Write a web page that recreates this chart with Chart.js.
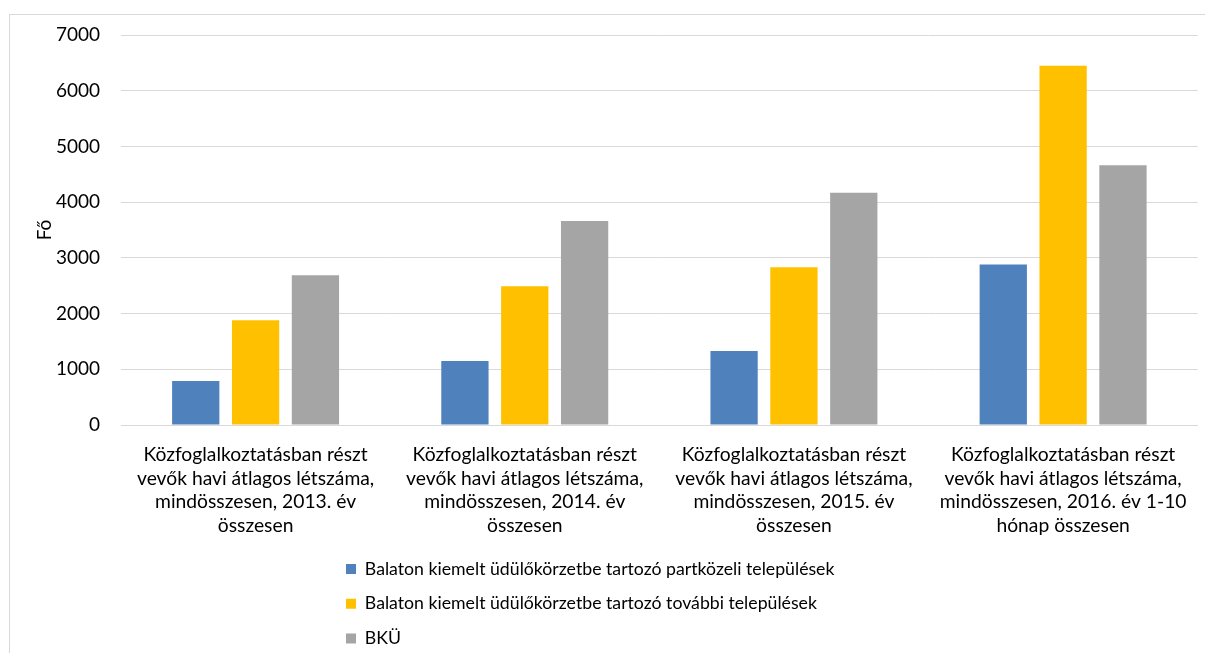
<!DOCTYPE html>
<html>
<head>
<meta charset="utf-8">
<script src="https://cdn.jsdelivr.net/npm/chart.js@4/dist/chart.umd.min.js"></script>
<style>
  html, body { margin: 0; padding: 0; background: #fff; overflow: hidden; width: 1205px; height: 653px; }
  #frame { position: absolute; left: 9px; top: 14px; width: 1220px; height: 700px; border: 1px solid #d9d9d9; box-sizing: border-box; }
  #wrap { position: absolute; left: 10px; top: 15px; width: 1195px; height: 638px; }
</style>
</head>
<body>
<div id="frame"></div>
<div id="wrap"><canvas id="c" width="1195" height="638" style="width:1195px;height:638px"></canvas></div>
<script>
// ---- data ----
const categories = [
  ["Közfoglalkoztatásban részt", "vevők havi átlagos létszáma,", "mindösszesen, 2013. év", "összesen"],
  ["Közfoglalkoztatásban részt", "vevők havi átlagos létszáma,", "mindösszesen, 2014. év", "összesen"],
  ["Közfoglalkoztatásban részt", "vevők havi átlagos létszáma,", "mindösszesen, 2015. év", "összesen"],
  ["Közfoglalkoztatásban részt", "vevők havi átlagos létszáma,", "mindösszesen, 2016. év 1-10", "hónap összesen"]
];
const seriesNames = [
  "Balaton kiemelt üdülőkörzetbe tartozó partközeli települések",
  "Balaton kiemelt üdülőkörzetbe tartozó további települések",
  "BKÜ"
];
const partkozeli = [790, 1150, 1330, 2880];
const tovabbi = [1880, 2490, 2830, 6450];
const bku = [2690, 3660, 4170, 4660];
const yTitle = "Fő";
const yMin = 0, yMax = 7000, yStep = 1000;

// ---- styling ----
const FONT = "Lato";
const colors = ["#4F81BD", "#FFC000", "#A5A5A5"];
const LEGEND_BOX_X = 336;      // canvas coords of legend swatch left
const LEGEND_TEXT_CY = 554;    // canvas coords of first legend text centre
const LEGEND_FONT = 17.7;
const LEGEND_PAD = 17;

const legendPlacer = {
  id: 'legendPlacer',
  afterLayout(chart) {
    const lg = chart.legend;
    if (!lg || !lg.legendItems) return;
    const lo = lg.options.labels;
    const ctx = chart.ctx;
    ctx.save();
    ctx.font = LEGEND_FONT + "px " + FONT;
    let maxW = 0;
    lg.legendItems.forEach(it => {
      maxW = Math.max(maxW, lo.boxWidth + LEGEND_FONT / 2 + ctx.measureText(it.text).width);
    });
    ctx.restore();
    const itemH = Math.max(LEGEND_FONT, lo.boxHeight);
    lg.left = LEGEND_BOX_X - LEGEND_PAD;
    lg.right = lg.left + 2 * LEGEND_PAD + maxW + 4;
    lg.top = LEGEND_TEXT_CY - LEGEND_PAD - itemH / 2;
    lg.bottom = lg.top + LEGEND_PAD + lg.legendItems.length * (itemH + LEGEND_PAD) + 10;
    lg.width = lg.right - lg.left;
    lg.height = lg.bottom - lg.top;
  }
};

const datasets = [partkozeli, tovabbi, bku].map((d, i) => ({
  label: seriesNames[i],
  data: d,
  backgroundColor: colors[i],
  borderWidth: 0,
  categoryPercentage: 0.667,
  barPercentage: 0.79
}));

new Chart(document.getElementById('c'), {
  type: 'bar',
  data: { labels: categories, datasets },
  plugins: [legendPlacer],
  options: {
    responsive: false,
    animation: false,
    devicePixelRatio: 1,
    layout: { padding: { top: 20, right: 4, left: 0, bottom: 102 } },
    plugins: {
      tooltip: { enabled: false },
      legend: {
        display: true,
        position: 'bottom',
        align: 'start',
        maxHeight: 1,
        labels: {
          boxWidth: 10,
          boxHeight: 10,
          padding: LEGEND_PAD,
          color: '#000',
          font: { family: FONT, size: LEGEND_FONT }
        }
      }
    },
    scales: {
      x: {
        grid: { display: false, drawTicks: false },
        border: { display: true, color: '#d9d9d9', width: 1 },
        ticks: {
          color: '#000',
          padding: 18,
          maxRotation: 0,
          autoSkip: false,
          font: { family: FONT, size: 19.3, lineHeight: 1.22 }
        },
        afterFit: s => { s.height = 125; }
      },
      y: {
        min: yMin, max: yMax,
        grid: { color: '#d9d9d9', lineWidth: 1, drawTicks: true, tickLength: 21, tickColor: 'rgba(0,0,0,0)' },
        border: { display: false },
        ticks: {
          stepSize: yStep,
          color: '#000',
          padding: 0,
          font: { family: FONT, size: 19 },
          callback: v => String(v)
        },
        title: {
          display: true,
          text: yTitle,
          color: '#000',
          font: { family: FONT, size: 19 },
          padding: { top: 23, bottom: 0 }
        },
        afterFit: s => { s.width = 111; }
      }
    }
  }
});
</script>
</body>
</html>
